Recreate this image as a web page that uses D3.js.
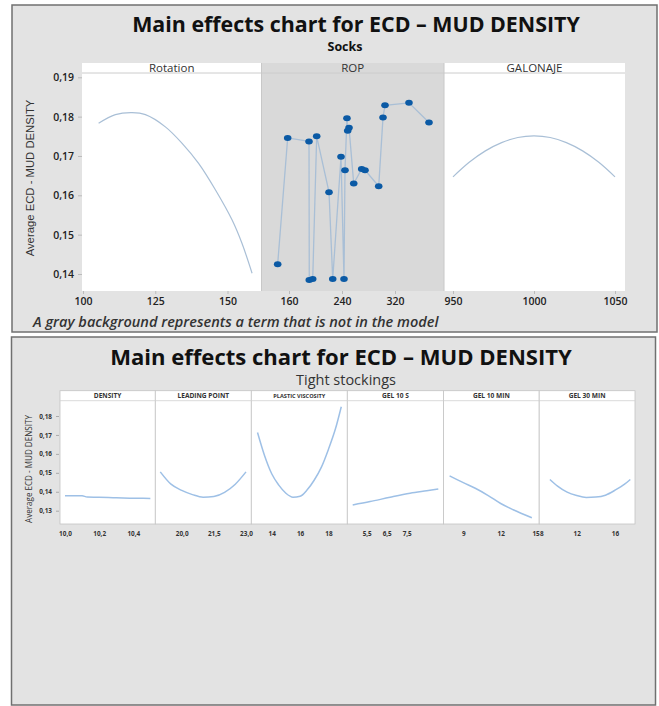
<!DOCTYPE html>
<html>
<head>
<meta charset="utf-8">
<script src="https://cdn.jsdelivr.net/npm/d3@7"></script>
<style>
  body { margin: 0; background: #ffffff; }
  svg { display: block; }
</style>
</head>
<body>
<div id="main_output"></div>
<script>
// values

// top chart (Socks)
const rotationX = [105.4, 111.2, 117.0, 121.6, 128.5, 134.3, 140.0, 145.8, 151.6, 155.0, 158.5];
const rotationY = [0.1783, 0.1805, 0.1810, 0.1805, 0.1774, 0.1732, 0.1681, 0.1614, 0.1537, 0.1478, 0.1402];

const ropX = [142.9, 158.0, 190.2, 190.6, 195.8, 201.8, 220.4, 226.0, 238.5, 243.0, 244.5, 247.5, 248.6, 250.6, 257.7, 269.7, 274.7, 295.4, 301.9, 304.9, 341.1, 371.3];
const ropY = [0.1425, 0.1746, 0.1737, 0.1385, 0.1387, 0.1750, 0.1608, 0.1387, 0.1698, 0.1387, 0.1664, 0.1796, 0.1764, 0.1772, 0.1630, 0.1667, 0.1664, 0.1623, 0.1798, 0.1829, 0.1835, 0.1785];

const galonajeX = [950, 960, 970, 980, 990, 1000, 1010, 1020, 1030, 1040, 1050];
const galonajeY = [0.1647, 0.1684, 0.1713, 0.1734, 0.1747, 0.1751, 0.1747, 0.1734, 0.1713, 0.1684, 0.1647];

const topYTicks = [0.14, 0.15, 0.16, 0.17, 0.18, 0.19];
const topYLabels = ["0,14", "0,15", "0,16", "0,17", "0,18", "0,19"];
const rotationTicks = [100, 125, 150];
const ropTicks = [160, 240, 320];
const galonajeTicks = [950, 1000, 1050];

// bottom chart (Tight stockings)
const densityX = [10.0, 10.1, 10.13, 10.2, 10.3, 10.4, 10.5];
const densityY = [0.1379, 0.1379, 0.1372, 0.1371, 0.1368, 0.1366, 0.1365];

const leadingX = [19.0, 19.5, 20.0, 20.5, 21.0, 21.5, 22.0, 22.5, 23.0];
const leadingY = [0.1505, 0.1440, 0.1407, 0.1385, 0.1371, 0.1375, 0.1397, 0.1440, 0.1505];

const viscosityX = [13.0, 13.5, 14.0, 14.5, 15.0, 15.5, 16.0, 16.5, 17.0, 17.5, 18.0, 18.5, 18.9];
const viscosityY = [0.1713, 0.1590, 0.1495, 0.1435, 0.1392, 0.1371, 0.1376, 0.1410, 0.1462, 0.1530, 0.1625, 0.1735, 0.1849];

const gel10sX = [4.8, 5.67, 6.67, 7.67, 8.5, 9.08];
const gel10sY = [0.1330, 0.1348, 0.1371, 0.1392, 0.1405, 0.1414];

const gel10minX = [7.9, 9.0, 10.0, 11.0, 12.0, 13.0, 14.5];
const gel10minY = [0.1484, 0.1448, 0.1417, 0.1380, 0.1338, 0.1305, 0.1263];

const gel30minX = [9.2, 10.0, 11.0, 12.0, 13.0, 14.0, 15.0, 16.0, 17.0, 17.6];
const gel30minY = [0.1465, 0.1430, 0.1398, 0.1380, 0.1370, 0.1372, 0.1382, 0.1408, 0.1440, 0.1465];

const bottomYTicks = [0.13, 0.14, 0.15, 0.16, 0.17, 0.18];
const bottomYLabels = ["0,13", "0,14", "0,15", "0,16", "0,17", "0,18"];

const bottomNames = ["DENSITY", "LEADING POINT", "PLASTIC VISCOSITY", "GEL 10 S", "GEL 10 MIN", "GEL 30 MIN"];
const bottomTicks = [[10.0, 10.2, 10.4], [20.0, 21.5, 23.0], [14, 16, 18], [5.5, 6.5, 7.5], [9, 12, 15], [8, 12, 16]];
const bottomTickLabels = [["10,0", "10,2", "10,4"], ["20,0", "21,5", "23,0"], ["14", "16", "18"], ["5,5", "6,5", "7,5"], ["9", "12", "15"], ["8", "12", "16"]];

const frame_bg = "#e3e3e3";
const frame_stroke = "#707070";
const gray_panel = "#d9d9d9";
const line_colour = "#a9bfd6";
const dot_colour = "#0b5aa5";
const effect_colour = "#9ec0e6";
const text_colour = "#222222";

var W = 659, H = 706;

var svg = d3.select("#main_output")
  .append("svg")
  .attr("width", W)
  .attr("height", H);

// squeeze or stretch a text to a width
function fitText(sel, w) {
  var fs = parseFloat(sel.attr("font-size"));
  var cur = sel.node().getComputedTextLength();
  if (cur > 0) sel.attr("font-size", fs * w / cur);
  return sel;
}

function zip(xs, ys) { return xs.map(function(d, i) { return [d, ys[i]]; }); }

// ---------- top chart ----------
svg.append("rect")
  .attr("x", 12).attr("y", 5).attr("width", 645).attr("height", 327)
  .attr("fill", frame_bg).attr("stroke", frame_stroke).attr("stroke-width", 1.5);

var t1 = svg.append("text")
  .attr("x", 356).attr("y", 31.5)
  .attr("text-anchor", "middle")
  .attr("font-family", "Open Sans, sans-serif")
  .attr("font-weight", 700).attr("font-size", 19)
  .attr("fill", "#111")
  .text("Main effects chart for ECD – MUD DENSITY");
fitText(t1, 448);

var s1 = svg.append("text")
  .attr("x", 345).attr("y", 50.5)
  .attr("text-anchor", "middle")
  .attr("font-family", "Open Sans, sans-serif")
  .attr("font-weight", 700).attr("font-size", 11)
  .attr("fill", "#111")
  .text("Socks");
fitText(s1, 35);

var headTop = 63, headBottom = 73, plotBottom = 291;

var yTop = d3.scaleLinear().domain([0.14, 0.19]).range([274, 77.3]);

var topPanels = [
  {name: "Rotation", x0: 82, x1: 261.5, gray: false,
   x: d3.scaleLinear().domain([100, 150]).range([83, 227.5]), ticks: rotationTicks},
  {name: "ROP", x0: 261.5, x1: 444, gray: true,
   x: d3.scaleLinear().domain([160, 320]).range([289, 395]), ticks: ropTicks},
  {name: "GALONAJE", x0: 444, x1: 625, gray: false,
   x: d3.scaleLinear().domain([950, 1050]).range([453, 615]), ticks: galonajeTicks}
];

topPanels.forEach(function(p) {
  svg.append("rect")
    .attr("x", p.x0).attr("y", headTop)
    .attr("width", p.x1 - p.x0).attr("height", plotBottom - headTop)
    .attr("fill", p.gray ? gray_panel : "#ffffff");
  svg.append("line")
    .attr("x1", p.x0).attr("x2", p.x1)
    .attr("y1", headBottom).attr("y2", headBottom)
    .attr("stroke", "#cccccc").attr("stroke-width", 1);
  svg.append("text")
    .attr("x", (p.x0 + p.x1) / 2).attr("y", 71.8)
    .attr("text-anchor", "middle")
    .attr("font-family", "Open Sans, sans-serif")
    .attr("font-size", 11.5)
    .attr("fill", "#333")
    .text(p.name);

  var ax = svg.append("g")
    .attr("transform", "translate(0," + plotBottom + ")")
    .call(d3.axisBottom(p.x).tickValues(p.ticks).tickSize(3).tickPadding(4).tickFormat(d3.format("d")));
  ax.select(".domain").remove();
  ax.selectAll("line").attr("stroke", "#bbbbbb");
  ax.selectAll("text")
    .attr("font-family", "Open Sans, sans-serif")
    .attr("font-weight", 600).attr("font-size", 10.5)
    .attr("fill", text_colour);
});
svg.append("line")
  .attr("x1", 261.5).attr("x2", 261.5).attr("y1", headTop).attr("y2", plotBottom)
  .attr("stroke", "#c8c8c8");
svg.append("line")
  .attr("x1", 444).attr("x2", 444).attr("y1", headTop).attr("y2", plotBottom)
  .attr("stroke", "#c8c8c8");

var yAx = svg.append("g")
  .attr("transform", "translate(82,0)")
  .call(d3.axisLeft(yTop).tickValues(topYTicks).tickSize(4).tickPadding(4)
    .tickFormat(function(d, i) { return topYLabels[i]; }));
yAx.select(".domain").remove();
yAx.selectAll("line").attr("stroke", "#bbbbbb");
yAx.selectAll("text")
  .attr("font-family", "Open Sans, sans-serif")
  .attr("font-weight", 600).attr("font-size", 10.5)
  .attr("fill", text_colour);

var yt1 = svg.append("text")
  .attr("transform", "translate(34,178) rotate(-90)")
  .attr("text-anchor", "middle")
  .attr("font-family", "Liberation Sans Narrow, Arial Narrow, sans-serif")
  .attr("font-size", 13)
  .attr("fill", "#333")
  .text("Average ECD - MUD DENSITY");
fitText(yt1, 157);

var smooth = d3.line().curve(d3.curveCatmullRom.alpha(0.5));
var curve = d3.line().curve(d3.curveMonotoneX);

svg.append("path")
  .datum(zip(rotationX, rotationY).map(function(d) { return [topPanels[0].x(d[0]), yTop(d[1])]; }))
  .attr("fill", "none").attr("stroke", line_colour).attr("stroke-width", 1.2)
  .attr("d", smooth);

svg.append("path")
  .datum(zip(galonajeX, galonajeY).map(function(d) { return [topPanels[2].x(d[0]), yTop(d[1])]; }))
  .attr("fill", "none").attr("stroke", line_colour).attr("stroke-width", 1.2)
  .attr("d", smooth);

var ropPts = zip(ropX, ropY).map(function(d) { return [topPanels[1].x(d[0]), yTop(d[1])]; });
svg.append("path")
  .datum(ropPts)
  .attr("fill", "none").attr("stroke", line_colour).attr("stroke-width", 1.3)
  .attr("d", d3.line());
svg.selectAll("ellipse.rop")
  .data(ropPts)
  .enter()
  .append("ellipse")
  .attr("class", "rop")
  .attr("cx", function(d) { return d[0]; })
  .attr("cy", function(d) { return d[1]; })
  .attr("rx", 3.8).attr("ry", 3)
  .attr("fill", dot_colour);

var fn = svg.append("text")
  .attr("x", 33).attr("y", 326.5)
  .attr("font-family", "Open Sans, sans-serif")
  .attr("font-style", "italic").attr("font-weight", 600).attr("font-size", 12)
  .attr("fill", "#333")
  .text("A gray background represents a term that is not in the model");
fitText(fn, 406);

// ---------- bottom chart ----------
svg.append("rect")
  .attr("x", 11.5).attr("y", 337).attr("width", 644).attr("height", 368)
  .attr("fill", frame_bg).attr("stroke", frame_stroke).attr("stroke-width", 1.5);

var t2 = svg.append("text")
  .attr("x", 341).attr("y", 364.5)
  .attr("text-anchor", "middle")
  .attr("font-family", "Open Sans, sans-serif")
  .attr("font-weight", 700).attr("font-size", 21)
  .attr("fill", "#111")
  .text("Main effects chart for ECD – MUD DENSITY");
fitText(t2, 462);

var s2 = svg.append("text")
  .attr("x", 346).attr("y", 384.5)
  .attr("text-anchor", "middle")
  .attr("font-family", "Open Sans, sans-serif")
  .attr("font-size", 12.5)
  .attr("fill", "#333")
  .text("Tight stockings");
fitText(s2, 100);

var bHeadTop = 390.7, bHeadBottom = 400.7, bPlotBottom = 524;
var bEdges = [60, 155.3, 251.3, 347.3, 443.5, 539.2, 635];

var yBot = d3.scaleLinear().domain([0.13, 0.18]).range([510.7, 416]);

var bScales = [
  d3.scaleLinear().domain([10.0, 10.4]).range([65, 133.3]),
  d3.scaleLinear().domain([20.0, 23.0]).range([181.7, 246]),
  d3.scaleLinear().domain([14, 18]).range([271.7, 328.5]),
  d3.scaleLinear().domain([5.5, 7.5]).range([366.7, 406.7]),
  d3.scaleLinear().domain([9, 12]).range([463.3, 500.7]),
  d3.scaleLinear().domain([12, 16]).range([576.7, 615])
];
var bSeries = [
  zip(densityX, densityY), zip(leadingX, leadingY), zip(viscosityX, viscosityY),
  zip(gel10sX, gel10sY), zip(gel10minX, gel10minY), zip(gel30minX, gel30minY)
];

bottomNames.forEach(function(name, i) {
  var x0 = bEdges[i], x1 = bEdges[i + 1];
  svg.append("rect")
    .attr("x", x0).attr("y", bHeadTop)
    .attr("width", x1 - x0).attr("height", bPlotBottom - bHeadTop)
    .attr("fill", "#ffffff").attr("stroke", "#c4c4c4").attr("stroke-width", 0.8);
  svg.append("line")
    .attr("x1", x0).attr("x2", x1)
    .attr("y1", bHeadBottom).attr("y2", bHeadBottom)
    .attr("stroke", "#cfcfcf").attr("stroke-width", 0.8);
  svg.append("text")
    .attr("x", (x0 + x1) / 2).attr("y", 398.3)
    .attr("text-anchor", "middle")
    .attr("font-family", "Open Sans, sans-serif")
    .attr("font-weight", 700)
    .attr("font-size", name === "PLASTIC VISCOSITY" ? 5.6 : 6.6)
    .attr("fill", "#333")
    .text(name);

  svg.append("path")
    .datum(bSeries[i].map(function(d) { return [bScales[i](d[0]), yBot(d[1])]; }))
    .attr("fill", "none").attr("stroke", effect_colour).attr("stroke-width", 1.5)
    .attr("d", curve);

  var ax = svg.append("g")
    .attr("transform", "translate(0," + bPlotBottom + ")")
    .call(d3.axisBottom(bScales[i]).tickValues(bottomTicks[i]).tickSize(0).tickPadding(7)
      .tickFormat(function(d, j) { return bottomTickLabels[i][j]; }));
  ax.select(".domain").remove();
  ax.selectAll("text")
    .attr("font-family", "Open Sans, sans-serif")
    .attr("font-weight", 700).attr("font-size", 6.4)
    .attr("fill", "#333");
  // the last label of GEL 10 MIN and the first of GEL 30 MIN share the same edge
  if (i === 4) ax.selectAll("text").filter(function(d) { return d === 15; }).attr("dx", -2.5);
  if (i === 5) ax.selectAll("text").filter(function(d) { return d === 8; }).attr("dx", 3);
});

var yAx2 = svg.append("g")
  .attr("transform", "translate(59,0)")
  .call(d3.axisLeft(yBot).tickValues(bottomYTicks).tickSize(3).tickPadding(4)
    .tickFormat(function(d, i) { return bottomYLabels[i]; }));
yAx2.select(".domain").remove();
yAx2.selectAll("line").attr("stroke", "#aaaaaa");
yAx2.selectAll("text")
  .attr("font-family", "Open Sans, sans-serif")
  .attr("font-weight", 700).attr("font-size", 6.4)
  .attr("fill", "#333");

var yt2 = svg.append("text")
  .attr("transform", "translate(32,469) rotate(-90)")
  .attr("text-anchor", "middle")
  .attr("font-family", "Open Sans, sans-serif")
  .attr("font-size", 8)
  .attr("fill", "#333")
  .text("Average ECD - MUD DENSITY");
fitText(yt2, 108);
</script>
</body>
</html>
